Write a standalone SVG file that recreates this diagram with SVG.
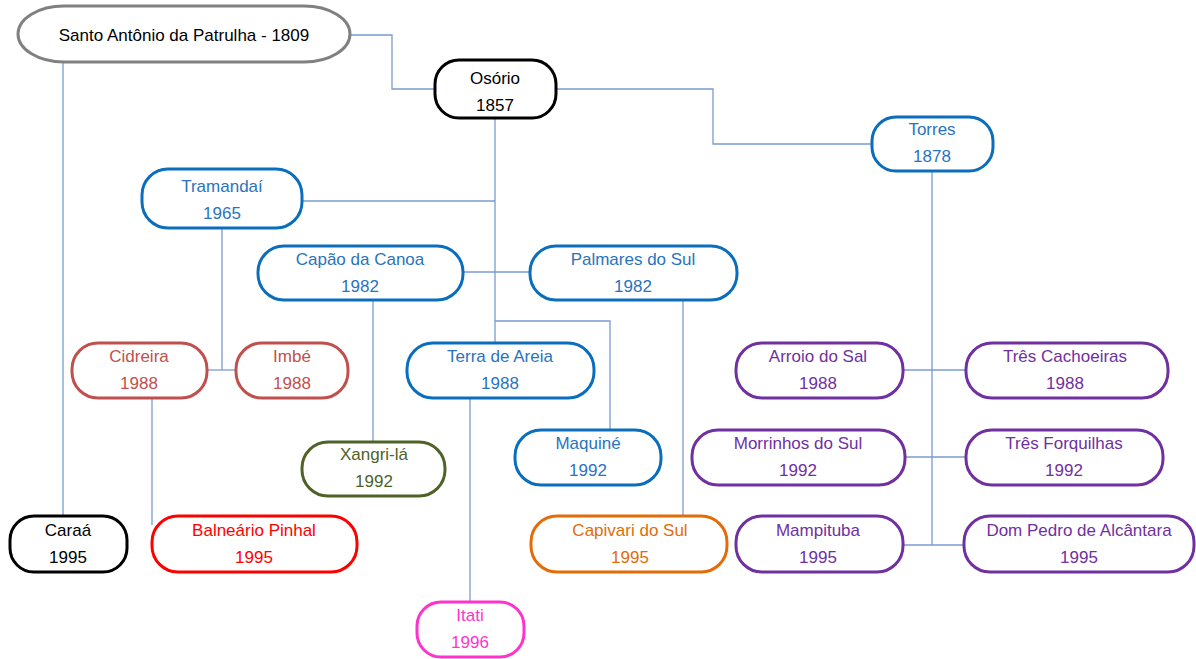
<svg xmlns="http://www.w3.org/2000/svg" width="1196" height="659" viewBox="0 0 1196 659">
<style>
text{font-family:"Liberation Sans",Arial,sans-serif;font-size:17px;text-anchor:middle}
.n{fill:#fff;stroke-width:3}
.c{fill:none;stroke:#7A9BD0;stroke-width:1.3}
.blk rect{stroke:#000}.blk text{fill:#000}
.blu rect{stroke:#0A6EBD}.blu text{fill:#2A73C0}
.brn rect{stroke:#C0504D}.brn text{fill:#C0504D}
.grn rect{stroke:#4F6228}.grn text{fill:#4F6228}
.prp rect{stroke:#7030A0}.prp text{fill:#7030A0}
.red rect{stroke:#FF0000}.red text{fill:#FF0000}
.org rect{stroke:#E36C09}.org text{fill:#E36C09}
.pnk rect{stroke:#FF33CC}.pnk text{fill:#FF33CC}
</style>
<rect width="1196" height="659" fill="#fff"/>
<g id="connectors" class="c">
<path class="c" d="M350 35H392V89H435"/>
<path class="c" d="M556 89H713V144H872"/>
<path class="c" d="M63 62V516"/>
<path class="c" d="M495 118V343"/>
<path class="c" d="M302 201H495"/>
<path class="c" d="M463 272H530"/>
<path class="c" d="M495 321H610V430"/>
<path class="c" d="M222 228V370"/>
<path class="c" d="M207 370H236"/>
<path class="c" d="M152 398V525"/>
<path class="c" d="M373 300V442"/>
<path class="c" d="M470 398V602"/>
<path class="c" d="M683 300V516"/>
<path class="c" d="M932 171V545"/>
<path class="c" d="M903 370H966"/>
<path class="c" d="M905 457H966"/>
<path class="c" d="M903 545H964"/>
</g>
<g id="santo-antonio">
<rect class="n" x="18" y="6" width="332" height="56" rx="46" ry="28" style="stroke:#808080"/>
<text x="184" y="41" fill="#000">Santo Antônio da Patrulha - 1809</text>
</g>
<g id="osorio" class="blk">
<rect class="n" x="435" y="60" width="121" height="58" rx="24"/>
<text x="495" y="84">Osório</text><text x="495" y="111">1857</text>
</g>
<g id="torres" class="blu">
<rect class="n" x="872" y="117" width="121" height="54" rx="24"/>
<text x="932" y="135">Torres</text><text x="932" y="162">1878</text>
</g>
<g id="tramandai" class="blu">
<rect class="n" x="142" y="169" width="160" height="59" rx="26"/>
<text x="222" y="192">Tramandaí</text><text x="222" y="219">1965</text>
</g>
<g id="capao-da-canoa" class="blu">
<rect class="n" x="258" y="246" width="205" height="54" rx="26"/>
<text x="360" y="265">Capão da Canoa</text><text x="360" y="292">1982</text>
</g>
<g id="palmares-do-sul" class="blu">
<rect class="n" x="530" y="246" width="207" height="54" rx="26"/>
<text x="633" y="265">Palmares do Sul</text><text x="633" y="292">1982</text>
</g>
<g id="cidreira" class="brn">
<rect class="n" x="72" y="343" width="135" height="55" rx="26"/>
<text x="139" y="362">Cidreira</text><text x="139" y="389">1988</text>
</g>
<g id="imbe" class="brn">
<rect class="n" x="236" y="343" width="112" height="55" rx="26"/>
<text x="292" y="362">Imbé</text><text x="292" y="389">1988</text>
</g>
<g id="terra-de-areia" class="blu">
<rect class="n" x="407" y="343" width="187" height="55" rx="26"/>
<text x="500" y="362">Terra de Areia</text><text x="500" y="389">1988</text>
</g>
<g id="arroio-do-sal" class="prp">
<rect class="n" x="736" y="343" width="167" height="55" rx="26"/>
<text x="818" y="362">Arroio do Sal</text><text x="818" y="389">1988</text>
</g>
<g id="tres-cachoeiras" class="prp">
<rect class="n" x="966" y="343" width="202" height="55" rx="26"/>
<text x="1065" y="362">Três Cachoeiras</text><text x="1065" y="389">1988</text>
</g>
<g id="xangri-la" class="grn">
<rect class="n" x="302" y="442" width="143" height="54" rx="26"/>
<text x="374" y="460">Xangri-lá</text><text x="374" y="487">1992</text>
</g>
<g id="maquine" class="blu">
<rect class="n" x="515" y="430" width="146" height="55" rx="26"/>
<text x="588" y="449">Maquiné</text><text x="588" y="476">1992</text>
</g>
<g id="morrinhos-do-sul" class="prp">
<rect class="n" x="692" y="430" width="213" height="55" rx="26"/>
<text x="798" y="449">Morrinhos do Sul</text><text x="798" y="476">1992</text>
</g>
<g id="tres-forquilhas" class="prp">
<rect class="n" x="966" y="430" width="197" height="55" rx="26"/>
<text x="1064" y="449">Três Forquilhas</text><text x="1064" y="476">1992</text>
</g>
<g id="caraa" class="blk">
<rect class="n" x="10" y="516" width="117" height="56" rx="24"/>
<text x="68" y="536">Caraá</text><text x="68" y="563">1995</text>
</g>
<g id="balneario-pinhal" class="red">
<rect class="n" x="152" y="516" width="205" height="56" rx="26"/>
<text x="254" y="536">Balneário Pinhal</text><text x="254" y="563">1995</text>
</g>
<g id="capivari-do-sul" class="org">
<rect class="n" x="531" y="516" width="196" height="56" rx="26"/>
<text x="630" y="536">Capivari do Sul</text><text x="630" y="563">1995</text>
</g>
<g id="mampituba" class="prp">
<rect class="n" x="736" y="516" width="167" height="56" rx="26"/>
<text x="818" y="536">Mampituba</text><text x="818" y="563">1995</text>
</g>
<g id="dom-pedro-de-alcantara" class="prp">
<rect class="n" x="964" y="516" width="230" height="56" rx="26"/>
<text x="1079" y="536">Dom Pedro de Alcântara</text><text x="1079" y="563">1995</text>
</g>
<g id="itati" class="pnk">
<rect class="n" x="417" y="602" width="107" height="55" rx="24"/>
<text x="470" y="621">Itati</text><text x="470" y="648">1996</text>
</g>
</svg>
